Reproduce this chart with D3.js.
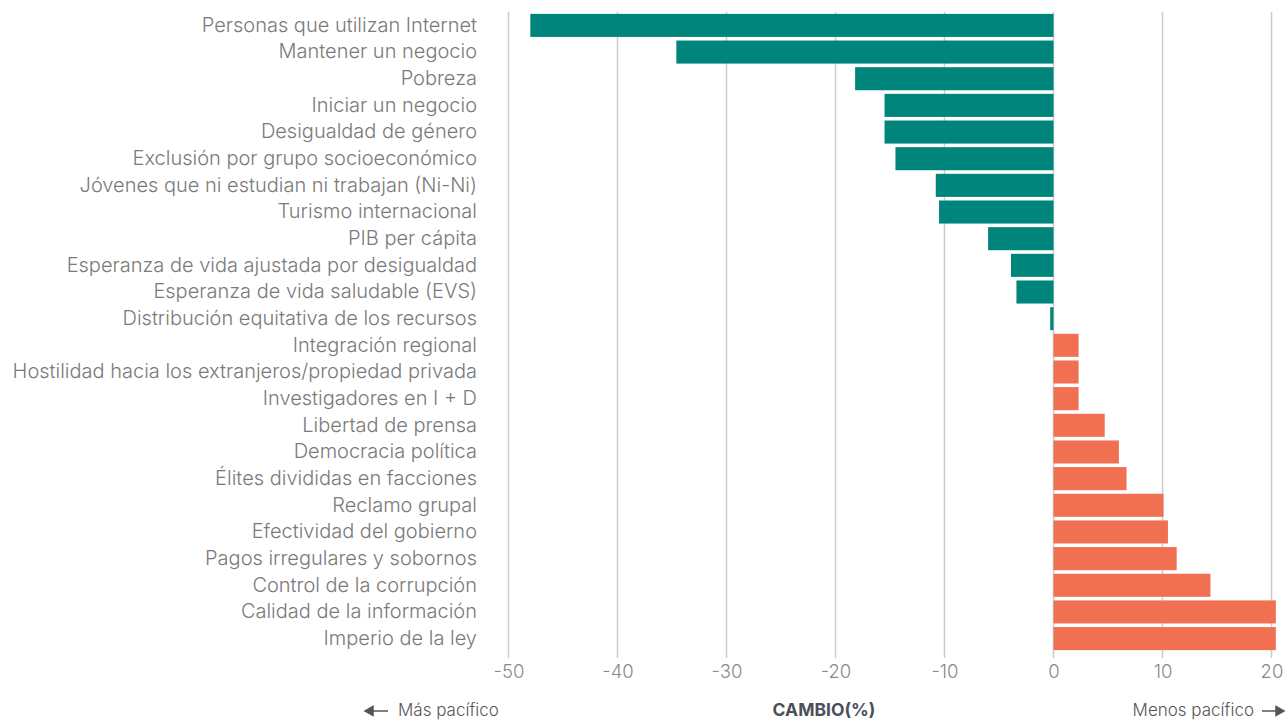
<!DOCTYPE html>
<html><head><meta charset="utf-8">
<script src="https://cdn.jsdelivr.net/npm/d3@7"></script>
<style>
body{margin:0;background:#fff;}
svg text{font-family:Inter, "Noto Sans", sans-serif;}
</style></head>
<body><svg id="c" width="1287" height="720"></svg>
<script>
const categories = ["Personas que utilizan Internet","Mantener un negocio","Pobreza","Iniciar un negocio","Desigualdad de género","Exclusión por grupo socioeconómico","Jóvenes que ni estudian ni trabajan (Ni-Ni)","Turismo internacional","PIB per cápita","Esperanza de vida ajustada por desigualdad","Esperanza de vida saludable (EVS)","Distribución equitativa de los recursos","Integración regional","Hostilidad hacia los extranjeros/propiedad privada","Investigadores en I + D","Libertad de prensa","Democracia política","Élites divididas en facciones","Reclamo grupal","Efectividad del gobierno","Pagos irregulares y sobornos","Control de la corrupción","Calidad de la información","Imperio de la ley"];
const values = [-48.0,-34.6,-18.2,-15.5,-15.5,-14.5,-10.8,-10.5,-6.0,-3.9,-3.4,-0.3,2.3,2.3,2.3,4.7,6.0,6.7,10.1,10.5,11.3,14.4,20.4,20.4];
const tickValues = [-50,-40,-30,-20,-10,0,10,20];
const axisTitle = "CAMBIO(%)";
const leftNote = "Más pacífico";
const rightNote = "Menos pacífico";

const svg = d3.select("#c");
const x = d3.scaleLinear().domain([-50,20]).range([508.5,1271.5]);
const y = d3.scaleBand().domain(categories).range([12,652]).paddingInner(0.135).paddingOuter(0.07);

// gridlines
svg.append("g").selectAll("line").data(tickValues).join("line")
  .attr("x1",d=>x(d)).attr("x2",d=>x(d)).attr("y1",12).attr("y2",658)
  .attr("stroke","#cccccc").attr("stroke-width",1.5);

// bars
svg.append("g").selectAll("rect").data(values).join("rect")
  .attr("x",d=>x(Math.min(0,d))).attr("width",d=>Math.abs(x(d)-x(0)))
  .attr("y",(d,i)=>y(categories[i])).attr("height",y.bandwidth())
  .attr("fill",d=>d<0?"#00857d":"#f27052");

// x axis
const xa = svg.append("g").attr("transform","translate(0,658)")
  .call(d3.axisBottom(x).tickValues(tickValues).tickSize(0).tickPadding(7).tickFormat(d=>String(d)));
xa.select(".domain").remove();
xa.selectAll("text").attr("font-size",18.5).attr("fill","#8a8a8a").style("font-family","Inter, sans-serif").attr("font-weight",300);

// y axis labels
const ya = svg.append("g").attr("transform","translate(477,0)")
  .call(d3.axisLeft(y).tickSize(0).tickPadding(0));
ya.select(".domain").remove();
ya.selectAll("text").attr("font-size",20).attr("fill","#7a7a7a").style("font-family","Inter, sans-serif").attr("font-weight",300);

// bottom notes
svg.append("text").attr("x",824).attr("y",716).attr("text-anchor","middle")
  .attr("font-size",17.5).attr("font-weight",700).attr("fill","#4a4f5a").text(axisTitle);
svg.append("text").attr("x",398).attr("y",716).attr("font-size",17).attr("fill","#555").attr("font-weight",300).text(leftNote);
svg.append("text").attr("x",1254).attr("y",716).attr("text-anchor","end").attr("font-size",17).attr("fill","#555").attr("font-weight",300).text(rightNote);
// arrows
const arr = svg.append("g").attr("stroke","#555").attr("fill","none").attr("stroke-width",1.5);
arr.append("line").attr("x1",366).attr("x2",388).attr("y1",711).attr("y2",711);
arr.append("path").attr("d","M373,706.5 L365,711 L373,715.5 Z").attr("fill","#555");
arr.append("line").attr("x1",1262).attr("x2",1283).attr("y1",711).attr("y2",711);
arr.append("path").attr("d","M1276,706.5 L1284,711 L1276,715.5 Z").attr("fill","#555");
</script></body></html>
